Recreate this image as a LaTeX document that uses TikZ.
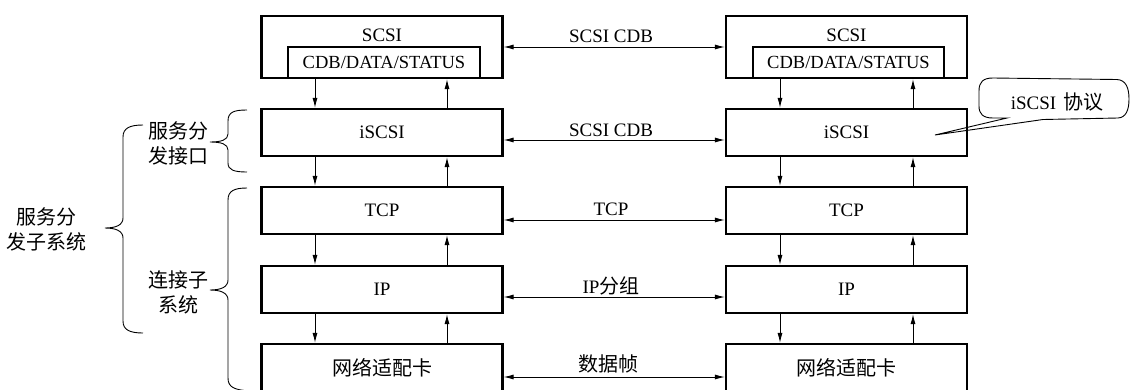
\documentclass[tikz,border=0pt]{standalone}
\usepackage{fontspec}
\setmainfont{Liberation Serif}
\newfontfamily\cjk{Noto Sans CJK SC}
\usetikzlibrary{arrows.meta}
\newcommand{\cj}[1]{{\cjk\fontsize{20}{22}\selectfont #1}}
\begin{document}
\begin{tikzpicture}[x=1pt,y=-1pt,
  box/.style={draw, line width=2.2pt, minimum width=241pt, minimum height=47pt, inner sep=0pt, fill=white, font=\fontsize{19}{22}\selectfont},
  inbox/.style={draw, line width=2.2pt, minimum height=31pt, inner sep=0pt, fill=white, font=\fontsize{18.5}{22}\selectfont},
  lbl/.style={inner sep=0pt, font=\fontsize{19}{22}\selectfont},
  clbl/.style={inner sep=0pt, align=center, font=\fontsize{20}{25}\selectfont\cjk},
  arr/.style={-{Latex[length=10pt,width=5pt]}, line width=0.9pt},
  dbl/.style={{Latex[length=10pt,width=5pt]}-{Latex[length=10pt,width=5pt]}, line width=0.9pt},
  thin/.style={line width=0.9pt}
]
\useasboundingbox (0,0) rectangle (1130,389);
\clip (0,0) rectangle (1130,389);

% left column
\node[box, minimum height=62pt] (scsiL) at (382,47) {};
\node[lbl] (scsiLt) at (382,35) {SCSI};
\node[inbox, minimum width=192pt] (cdbL) at (384,62.5) {\raisebox{-3pt}{CDB/DATA/STATUS}};
\node[box] (iscsiL) at (382,132.5) {iSCSI};
\node[box] (tcpL) at (382,210.5) {TCP};
\node[box] (ipL) at (382,289.5) {IP};
\node[box] (nicL) at (382,367.5) {\raisebox{1pt}{\cj{网络适配卡}}};

% right column
\node[box, minimum height=62pt] (scsiR) at (846.5,47) {};
\node[lbl] (scsiRt) at (846.5,35) {SCSI};
\node[inbox, minimum width=191pt] (cdbR) at (848.5,62.5) {\raisebox{-3pt}{CDB/DATA/STATUS}};
\node[box] (iscsiR) at (846.5,132.5) {iSCSI};
\node[box] (tcpR) at (846.5,210.5) {TCP};
\node[box] (ipR) at (846.5,289.5) {IP};
\node[box] (nicR) at (846.5,367.5) {\raisebox{1pt}{\cj{网络适配卡}}};

% vertical arrow columns
\coordinate (dL) at (315,0);
\coordinate (uL) at (447,0);
\coordinate (dR) at (780,0);
\coordinate (uR) at (913,0);

\foreach \a/\b in {cdbL/iscsiL, iscsiL/tcpL, tcpL/ipL, ipL/nicL}{
  \draw[arr] (\a.south -| dL) -- (\b.north -| dL);
  \draw[arr] (\b.north -| uL) -- (\a.south -| uL);
}
\foreach \a/\b in {cdbR/iscsiR, iscsiR/tcpR, tcpR/ipR, ipR/nicR}{
  \draw[arr] (\a.south -| dR) -- (\b.north -| dR);
  \draw[arr] (\b.north -| uR) -- (\a.south -| uR);
}

% horizontal arrows
\coordinate (h1) at (0,47);
\coordinate (h2) at (0,140);
\coordinate (h3) at (0,220);
\coordinate (h4) at (0,297);
\coordinate (h5) at (0,377);
\draw[dbl] (scsiL.east |- h1) -- (scsiR.west |- h1);
\draw[dbl] (iscsiL.east |- h2) -- (iscsiR.west |- h2);
\draw[dbl] (tcpL.east |- h3) -- (tcpR.west |- h3);
\draw[dbl] (ipL.east |- h4) -- (ipR.west |- h4);
\draw[dbl] (nicL.east |- h5) -- (nicR.west |- h5);

\node[lbl] (t1) at (611,36) {SCSI CDB};
\node[lbl] (t2) at (611,130) {SCSI CDB};
\node[lbl] (t3) at (611,209) {TCP};
\node[lbl] (t4) at (611,286) {IP\cj{分组}};
\node[clbl] (t5) at (608,364) {数据帧};

% callout
\draw[thin] (1007,118) -- (935,135) -- (1043,119.5) -- (1118,118)
  .. controls (1126,117.5) and (1129,110) .. (1129,99)
  .. controls (1129,88) and (1126,80) .. (1117,79.5)
  -- (993,78) .. controls (983,78) and (979,82) .. (979,91)
  -- (979,106) .. controls (979,114) and (983,118) .. (993,118) -- cycle;
\node[lbl] (call) at (1057,102) {iSCSI\hspace{7pt}\cj{协议}};

% braces
\draw[thin] (247,110) .. controls (234,110) and (228,112) .. (228,121)
  -- (228,134) .. controls (228,140) and (221,142) .. (210,142)
  .. controls (221,142) and (228,144) .. (228,150)
  -- (228,163) .. controls (228,170) and (234,172) .. (247,172);
\draw[thin] (247,188) .. controls (234,188) and (228,191) .. (228,200)
  -- (228,280) .. controls (228,287) and (221,290) .. (210,290)
  .. controls (221,290) and (228,293) .. (228,300)
  -- (228,378) .. controls (228,387) and (234,390) .. (250,391);
\draw[thin] (143,125) .. controls (130,125) and (123,128) .. (123,137)
  -- (123,218) .. controls (123,225) and (116,228) .. (105,228)
  .. controls (116,228) and (123,231) .. (123,238)
  -- (123,321) .. controls (123,330) and (130,333) .. (143,333);

\node[clbl] (b1) at (178,143) {服务分\\发接口};
\node[clbl] (b2) at (178,292) {连接子\\系统};
\node[clbl] (b3) at (46,229) {服务分\\发子系统};
\end{tikzpicture}
\end{document}
